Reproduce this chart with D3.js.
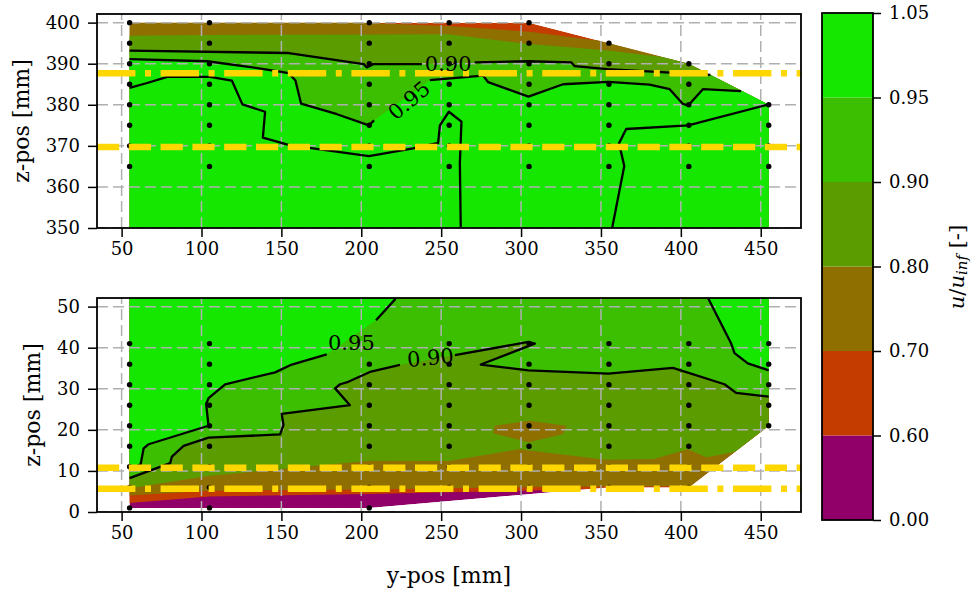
<!DOCTYPE html>
<html>
<head>
<meta charset="utf-8">
<script src="https://cdn.jsdelivr.net/npm/d3@7"></script>
<style>
  body { margin: 0; background: #fff; }
  text { font-family: "DejaVu Serif", serif; fill: #000; }
</style>
</head>
<body>
<svg id="chart" width="973" height="591"></svg>
<script>
// ---------- data ----------
const levels = [0, 0.6, 0.7, 0.8, 0.9, 0.95, 1.05];
const levelLabels = ['0.00', '0.60', '0.70', '0.80', '0.90', '0.95', '1.05'];
const bandColors = ['#900068', '#c43c00', '#8e6f00', '#5b9c00', '#3bbf00', '#16e700'];

const xTicks = [50, 100, 150, 200, 250, 300, 350, 400, 450];
const topTicks = [350, 360, 370, 380, 390, 400];
const botTicks = [0, 10, 20, 30, 40, 50];

// measurement positions (y-pos columns, z-pos per column)
const probeCols = [55, 105, 205, 255, 305, 355, 405, 455];
const topProbeZ = [
  [400, 395, 390, 385, 380, 375, 370, 365],
  [400, 395, 390, 385, 380, 375, 370, 365],
  [400, 395, 390, 385, 380, 375, 370, 365],
  [400, 395, 390, 385, 380, 375, 370, 365],
  [400, 395, 390, 385, 380, 375, 370, 365],
  [395, 390, 385, 380, 375, 370, 365],
  [390, 385, 380, 375, 370, 365],
  [380, 375, 370, 365]
];
const botProbeZ = [
  [41, 36, 31, 26, 21, 16, 11, 6, 1],
  [41, 36, 31, 26, 21, 16, 11, 6, 1],
  [36, 31, 26, 21, 16, 11, 6, 1],
  [41, 36, 31, 26, 21, 16, 11, 6],
  [41, 36, 31, 26, 21, 16, 11, 6],
  [41, 36, 31, 26, 21, 16, 11, 6],
  [41, 36, 31, 26, 21, 16, 11, 6],
  [41, 36, 31, 26, 21]
];

// measured area outline
const topHull = [[55, 400], [305, 400], [355, 395], [405, 390], [455, 380], [455, 340], [55, 340]];
const botHull = [[55, 1], [205, 1], [355, 6], [405, 6], [455, 21], [455, 60], [55, 60]];

// top panel: level boundaries [y, z]
const top070 = [[55, 402], [195, 402], [200, 400], [255, 399.2], [305, 397.8], [345, 395.8]];
const top080 = [[55, 396.8], [105, 397.0], [205, 397.1], [255, 397.2], [305, 394.8], [355, 393.2], [389, 391.6]];
const top090a = [[55, 393.2], [154.6, 392.6], [201.5, 389.9], [203.5, 389.1], [207.5, 389.9], [237.9, 389.9]];
const top090b = [[271, 390.3], [304.6, 390.6], [331.5, 390.3], [333.6, 389.4], [354, 388.7], [418.5, 387.3]];
const top095a = [[55, 391.1], [103.6, 390.6], [139, 388.7], [154.6, 387.7], [158.8, 385.9], [162.3, 380.3],
  [184.8, 377.7], [204.8, 375.0], [208, 376.2]];
const top095b = [[242.9, 386.0], [276.3, 387.1], [279.4, 385.5], [304.6, 382.0], [326.3, 385.0], [354.6, 385.6],
  [380.4, 384.9], [393, 383.8], [401.3, 380.2], [404.6, 379.8], [413.8, 383.8], [437.7, 383.3]];
const top100a = [[55, 384.1], [66, 385.3], [78.6, 386.8], [105.4, 386.8], [119, 385.9], [125.6, 380.1],
  [139.8, 378.3], [138.4, 372.0], [155, 370.2], [204.8, 367.5], [232.5, 369.4], [248.1, 370.7],
  [249.2, 375.0], [254.8, 378.3], [262.7, 375.9], [261.7, 365.7], [262.3, 349]];
const top100b = [[356.5, 349], [364.6, 365.1], [361.3, 370.6], [365.8, 374.1], [404.6, 375.0], [455, 380.1]];

// bottom panel: level boundaries [y, z]
const bot060 = [[55, 2.2], [105, 3.8], [205, 4.4], [255, 4.8], [345, 5.6]];
const bot070 = [[55, 4.0], [105, 5.2], [205, 5.5], [255, 5.8], [305, 6.0], [355, 6.2], [404, 6.3]];
const bot080 = [[55, 5.8], [105, 8.8], [205, 12.5], [255, 12.4], [299, 15.3], [353, 12.7], [383, 12.9],
  [404.4, 15.3], [416, 13.3], [433.6, 14.6]];
const bot090a = [[55, 8.25], [80.4, 11.9], [81.5, 13.5], [88.8, 16.1], [104.4, 18.1], [149.2, 18.9],
  [151.3, 21.2], [150.2, 23.9], [192.9, 26.0], [183.6, 30.1], [186.7, 31.1], [191.9, 31.7],
  [205.4, 34.1], [224.2, 35.8]];
const bot090b = [[258.6, 38.2], [304.6, 41.4], [308.6, 41.0], [274.8, 35.9], [304.6, 34.5], [354.6, 33.7],
  [395, 35.1], [427.3, 31.1], [434.6, 29.0], [455, 28.1]];
const bot095La = [[55, 10.3], [61.9, 11.6], [63.8, 15.5], [66.9, 16.5], [104.4, 21.0], [102.9, 26.3],
  [104.4, 27.7], [114.8, 31.1], [146.1, 34.0], [156.5, 35.9], [178.4, 38.4]];
const bot095Lb = [[209.2, 46.7], [221, 51.7], [221.5, 52.5]];
const bot095R = [[416.5, 52.5], [431.5, 41.0], [433.6, 38.7], [441.9, 36.2], [455, 34.5]];
const botIsland = [[282.5, 19.2], [283.6, 21.0], [304.8, 22.2], [328.4, 21.0], [326.3, 19.0], [304.8, 17.0]];

// contour labels [y, z, text, rotation]
const topLabels = [[254.4, 389.9, '0.90', 0], [230, 381, '0.95', -40]];
const botLabels = [[193.8, 41.2, '0.95', 0], [243.3, 37.5, '0.90', -5]];

// yellow reference heights
const topRefZ = [387.7, 369.7];
const topRefStyle = ['dashdot', 'dashed'];
const botRefZ = [10.75, 5.65];
const botRefStyle = ['dashed', 'dashdot'];

// ---------- drawing ----------
const svg = d3.select('#chart');
const xDom = [34.6, 475.2];
const x = d3.scaleLinear().domain(xDom).range([97, 801]);
const dashes = { dashed: '22.2,9.6', dashdot: '38.4,9.6,6,9.6' };
const yellow = '#ffd700';

const panels = [
  {
    id: 'top', z: d3.scaleLinear().domain([350, 402.1]).range([228, 14]), ticks: topTicks,
    hull: topHull, below: true,
    fills: [[top070, 2], [top080, 3], [top090a.concat(top090b), 4], [top095a.concat(top095b), 5]],
    base: 1, islands: [],
    lines: [top090a, top090b, top095a, top095b, top100a, top100b],
    labels: topLabels, probes: topProbeZ, refZ: topRefZ, refStyle: topRefStyle
  },
  {
    id: 'bot', z: d3.scaleLinear().domain([0, 52.1]).range([512, 298]), ticks: botTicks,
    hull: botHull, below: false,
    fills: [[bot060, 1], [bot070, 2], [bot080, 3], [bot090a.concat(bot090b), 4],
            [bot095La.concat(bot095Lb), 5], [bot095R, 5]],
    base: 0, islands: [[botIsland, 2]],
    lines: [bot090a, bot090b, bot095La, bot095Lb, bot095R],
    labels: botLabels, probes: botProbeZ, refZ: botRefZ, refStyle: botRefStyle
  }
];

panels.forEach(p => {
  const [zb, zt] = p.z.range();
  const pt = d => [x(d[0]), p.z(d[1])];
  const line = d3.line().x(d => x(d[0])).y(d => p.z(d[1]));
  const zCap = p.below ? p.z.domain()[0] - 10 : p.z.domain()[1] + 10;

  // region on the high side of a level boundary
  const region = l => {
    const first = l[0], last = l[l.length - 1];
    return l.concat([[xDom[1] + 10, last[1]], [xDom[1] + 10, zCap], [xDom[0] - 10, zCap], [xDom[0] - 10, first[1]]]);
  };

  const defs = svg.append('defs');
  defs.append('clipPath').attr('id', `ax-${p.id}`)
    .append('rect').attr('x', 97).attr('y', zt).attr('width', 704).attr('height', zb - zt);
  defs.append('clipPath').attr('id', `hull-${p.id}`)
    .append('path').attr('d', line(p.hull) + 'Z');

  const ax = svg.append('g').attr('clip-path', `url(#ax-${p.id})`);
  const fill = ax.append('g').attr('clip-path', `url(#hull-${p.id})`);

  fill.append('path').attr('d', line(p.hull) + 'Z').attr('fill', bandColors[p.base]);
  p.fills.forEach(([l, c], i) => {
    fill.append('path').attr('d', line(region(l)) + 'Z').attr('fill', bandColors[c]);
    if (i === 2) p.islands.forEach(([isl, ic]) =>
      fill.append('path').attr('d', line(isl) + 'Z').attr('fill', bandColors[ic]));
  });

  // grid
  const grid = ax.append('g').attr('stroke', '#b0b0b0').attr('stroke-width', 1.5)
    .attr('stroke-dasharray', '11,5');
  xTicks.forEach(t => grid.append('line').attr('x1', x(t)).attr('x2', x(t)).attr('y1', zb).attr('y2', zt));
  p.ticks.forEach(t => grid.append('line').attr('x1', 97).attr('x2', 801).attr('y1', p.z(t)).attr('y2', p.z(t)));

  // contour lines
  p.lines.forEach(l => ax.append('path').attr('d', line(l)).attr('fill', 'none')
    .attr('stroke', '#000').attr('stroke-width', 2.3).attr('stroke-linejoin', 'round'));

  // probe points
  probeCols.forEach((c, i) => p.probes[i].forEach(zv =>
    ax.append('circle').attr('cx', x(c)).attr('cy', p.z(zv)).attr('r', 2.7).attr('fill', '#000')));

  // yellow reference lines
  p.refZ.forEach((zv, i) => ax.append('line')
    .attr('x1', x(xDom[0])).attr('x2', x(xDom[1])).attr('y1', p.z(zv)).attr('y2', p.z(zv))
    .attr('stroke', yellow).attr('stroke-width', 6.5)
    .attr('stroke-dasharray', dashes[p.refStyle[i]]));

  // contour labels
  p.labels.forEach(([lx, lz, txt, rot]) => {
    const [px, py] = pt([lx, lz]);
    ax.append('text').attr('transform', `translate(${px},${py}) rotate(${rot})`)
      .attr('text-anchor', 'middle').attr('dominant-baseline', 'central')
      .style('font-size', '21px').text(txt);
  });

  // axes
  const xa = svg.append('g').attr('transform', `translate(0,${zb})`)
    .call(d3.axisBottom(x).tickValues(xTicks).tickSize(9).tickPadding(5).tickSizeOuter(0));
  const ya = svg.append('g').attr('transform', 'translate(97,0)')
    .call(d3.axisLeft(p.z).tickValues(p.ticks).tickSize(9).tickPadding(8).tickSizeOuter(0));
  [xa, ya].forEach(a => {
    a.select('.domain').remove();
    a.selectAll('.tick line').attr('stroke', '#000').attr('stroke-width', 1.5);
    a.selectAll('.tick text').style('font-size', '18px').style('font-family', '"DejaVu Serif", serif');
  });

  svg.append('rect').attr('x', 97).attr('y', zt).attr('width', 704).attr('height', zb - zt)
    .attr('fill', 'none').attr('stroke', '#000').attr('stroke-width', 1.8);

  svg.append('text')
    .attr('transform', `translate(${p.id === 'top' ? 21 : 32},${(zb + zt) / 2}) rotate(-90)`)
    .attr('text-anchor', 'middle').attr('dominant-baseline', 'central')
    .style('font-size', '22px').text('z-pos [mm]');
});

svg.append('text').attr('x', 449).attr('y', 575).attr('text-anchor', 'middle')
  .attr('dominant-baseline', 'central').style('font-size', '22px').text('y-pos [mm]');

// ---------- colorbar ----------
const cb = d3.scaleLinear().domain([0, levels.length - 1]).range([520, 13]);
const cbg = svg.append('g');
bandColors.forEach((c, i) => cbg.append('rect')
  .attr('x', 822).attr('width', 51).attr('y', cb(i + 1)).attr('height', cb(i) - cb(i + 1)).attr('fill', c));
cbg.append('rect').attr('x', 822).attr('y', 13).attr('width', 51).attr('height', 507)
  .attr('fill', 'none').attr('stroke', '#000').attr('stroke-width', 1.8);
const cbAxis = svg.append('g').attr('transform', 'translate(873,0)')
  .call(d3.axisRight(cb).tickValues(d3.range(levels.length)).tickFormat(i => levelLabels[i])
    .tickSize(8).tickPadding(8).tickSizeOuter(0));
cbAxis.select('.domain').remove();
cbAxis.selectAll('.tick line').attr('stroke', '#000').attr('stroke-width', 1.5);
cbAxis.selectAll('.tick text').style('font-size', '18px').style('font-family', '"DejaVu Serif", serif');

const cbl = svg.append('text').attr('transform', 'translate(957,267) rotate(-90)')
  .attr('text-anchor', 'middle').attr('dominant-baseline', 'central').style('font-size', '21px');
cbl.append('tspan').style('font-style', 'italic').text('u');
cbl.append('tspan').text('/');
cbl.append('tspan').style('font-style', 'italic').text('u');
cbl.append('tspan').style('font-style', 'italic').style('font-size', '15px').attr('dy', 5).text('inf');
cbl.append('tspan').attr('dy', -5).text(' [-]');
</script>
</body>
</html>
